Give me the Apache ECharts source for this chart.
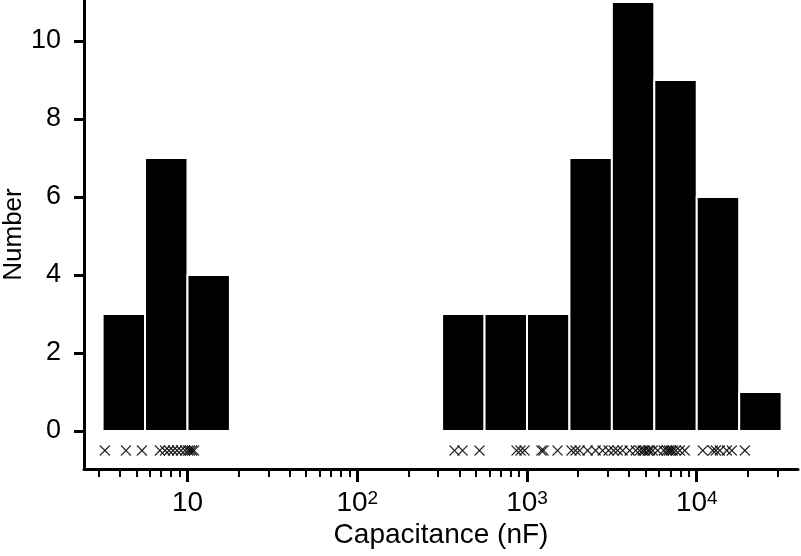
<!DOCTYPE html>
<html><head><meta charset="utf-8">
<script src="https://cdn.jsdelivr.net/npm/echarts@6/dist/echarts.min.js"></script>
<style>html,body{margin:0;padding:0;background:#fff}#c{width:801px;height:556px}</style>
</head><body><div id="c"></div>
<script>
// Histogram bin edges (nF) and counts
const binEdges = [3.162, 5.623, 10, 17.78, 31.62, 56.23, 100, 177.8, 316.2, 562.3, 1000, 1778, 3162, 5623, 10000, 17783, 31623];
const binCounts = [3, 7, 4, 0, 0, 0, 0, 0, 3, 3, 3, 7, 11, 9, 6, 1];
// Individual measurements (rug marks), nF
const capacitances = [
  3.26, 4.34, 5.39,
  6.88, 7.37, 7.78, 8.21, 8.67, 9.16, 9.67,
  10.07, 10.34, 10.63, 10.92,
  374, 417, 525,
  868, 916, 967,
  1217, 1251, 1513,
  1830, 1932, 2040, 2275, 2536, 2788, 3025,
  3238, 3419, 3659, 4024, 4367, 4609, 4801, 4933, 5138, 5280, 5500,
  5887, 6389, 6653, 6837, 7025, 7219, 7519, 7937, 8496,
  10850, 12430, 12950, 13670, 15030, 16090,
  19200
];
const yTicks = [0, 2, 4, 6, 8, 10];
const xMajorTicks = [10, 100, 1000, 10000];
const xTickExponents = ['', '2', '3', '4'];
const xMinorTicks = [3, 4, 5, 6, 7, 8, 9, 20, 30, 40, 50, 60, 70, 80, 90,
  200, 300, 400, 500, 600, 700, 800, 900, 2000, 3000, 4000, 5000, 6000, 7000, 8000, 9000, 20000, 30000];
const xTitle = 'Capacitance (nF)';
const yTitle = 'Number';

const rugLevel = -0.5;
const FONT = "'Liberation Sans', Arial, sans-serif";
const X_MIN = 2.457, X_MAX = 39490;

const chart = echarts.init(document.getElementById('c'), null, {renderer: 'canvas'});

const barData = [];
for (let i = 0; i < binCounts.length; i++) {
  if (binCounts[i] > 0) barData.push([binEdges[i], binEdges[i + 1], binCounts[i]]);
}

chart.setOption({
  animation: false,
  backgroundColor: '#fff',
  grid: {left: 84, right: 3, top: 0, bottom: 87, containLabel: false, outerBoundsMode: 'none'},
  xAxis: [{
    type: 'log', logBase: 10, min: X_MIN, max: X_MAX,
    axisLine: {show: true, onZero: false, lineStyle: {color: '#000', width: 3}},
    axisTick: {show: true, length: 13, customValues: xMajorTicks, lineStyle: {color: '#000', width: 3}},
    axisLabel: {
      customValues: xMajorTicks, margin: 20, color: '#000',
      formatter: function (v) {
        const i = Math.round(Math.log10(v)) - 1;
        const e = xTickExponents[i] || '';
        return e ? '{b|10}{s|' + e + '}' : '{b|10}';
      },
      rich: {
        b: {fontSize: 28, fontFamily: FONT, color: '#000'},
        s: {fontSize: 19, fontFamily: FONT, color: '#000', verticalAlign: 'top'}
      }
    },
    splitLine: {show: false},
    minorTick: {show: false},
    name: xTitle, nameLocation: 'middle', nameGap: 52, nameMoveOverlap: false,
    nameTextStyle: {fontSize: 28, fontFamily: FONT, color: '#000'}
  }, {
    type: 'log', logBase: 10, min: X_MIN, max: X_MAX, position: 'bottom',
    axisLine: {show: false, onZero: false},
    axisTick: {show: true, length: 8, customValues: xMinorTicks, lineStyle: {color: '#000', width: 2}},
    axisLabel: {show: false},
    splitLine: {show: false}
  }],
  yAxis: {
    type: 'value', min: -0.974, max: 11.05,
    axisLine: {show: true, onZero: false, lineStyle: {color: '#000', width: 3}},
    axisTick: {show: true, length: 10, customValues: yTicks, lineStyle: {color: '#000', width: 3}},
    axisLabel: {customValues: yTicks, fontSize: 27, fontFamily: FONT, color: '#000', margin: 23},
    splitLine: {show: false},
    name: yTitle, nameLocation: 'middle', nameGap: 57, nameMoveOverlap: false,
    nameTextStyle: {fontSize: 26, fontFamily: FONT, color: '#000'}
  },
  series: [{
    type: 'custom', xAxisIndex: 0, yAxisIndex: 0,
    data: barData,
    encode: {x: [0, 1], y: 2},
    renderItem: function (params, api) {
      const p0 = api.coord([api.value(0), 0]);
      const p1 = api.coord([api.value(1), api.value(2)]);
      return {
        type: 'rect',
        shape: {x: p0[0], y: p1[1], width: p1[0] - p0[0], height: p0[1] - p1[1]},
        style: {fill: '#000', stroke: '#fff', lineWidth: 2}
      };
    }
  }, {
    type: 'custom', xAxisIndex: 0, yAxisIndex: 0,
    data: capacitances.map(function (v) { return [v, rugLevel]; }),
    encode: {x: 0, y: 1},
    renderItem: function (params, api) {
      const p = api.coord([api.value(0), api.value(1)]);
      const s = 5;
      const st = {stroke: '#000', lineWidth: 1.1, opacity: 0.85};
      return {
        type: 'group',
        children: [
          {type: 'line', shape: {x1: p[0] - s, y1: p[1] - s, x2: p[0] + s, y2: p[1] + s}, style: st},
          {type: 'line', shape: {x1: p[0] - s, y1: p[1] + s, x2: p[0] + s, y2: p[1] - s}, style: st}
        ]
      };
    }
  }]
});
</script>
</body></html>
